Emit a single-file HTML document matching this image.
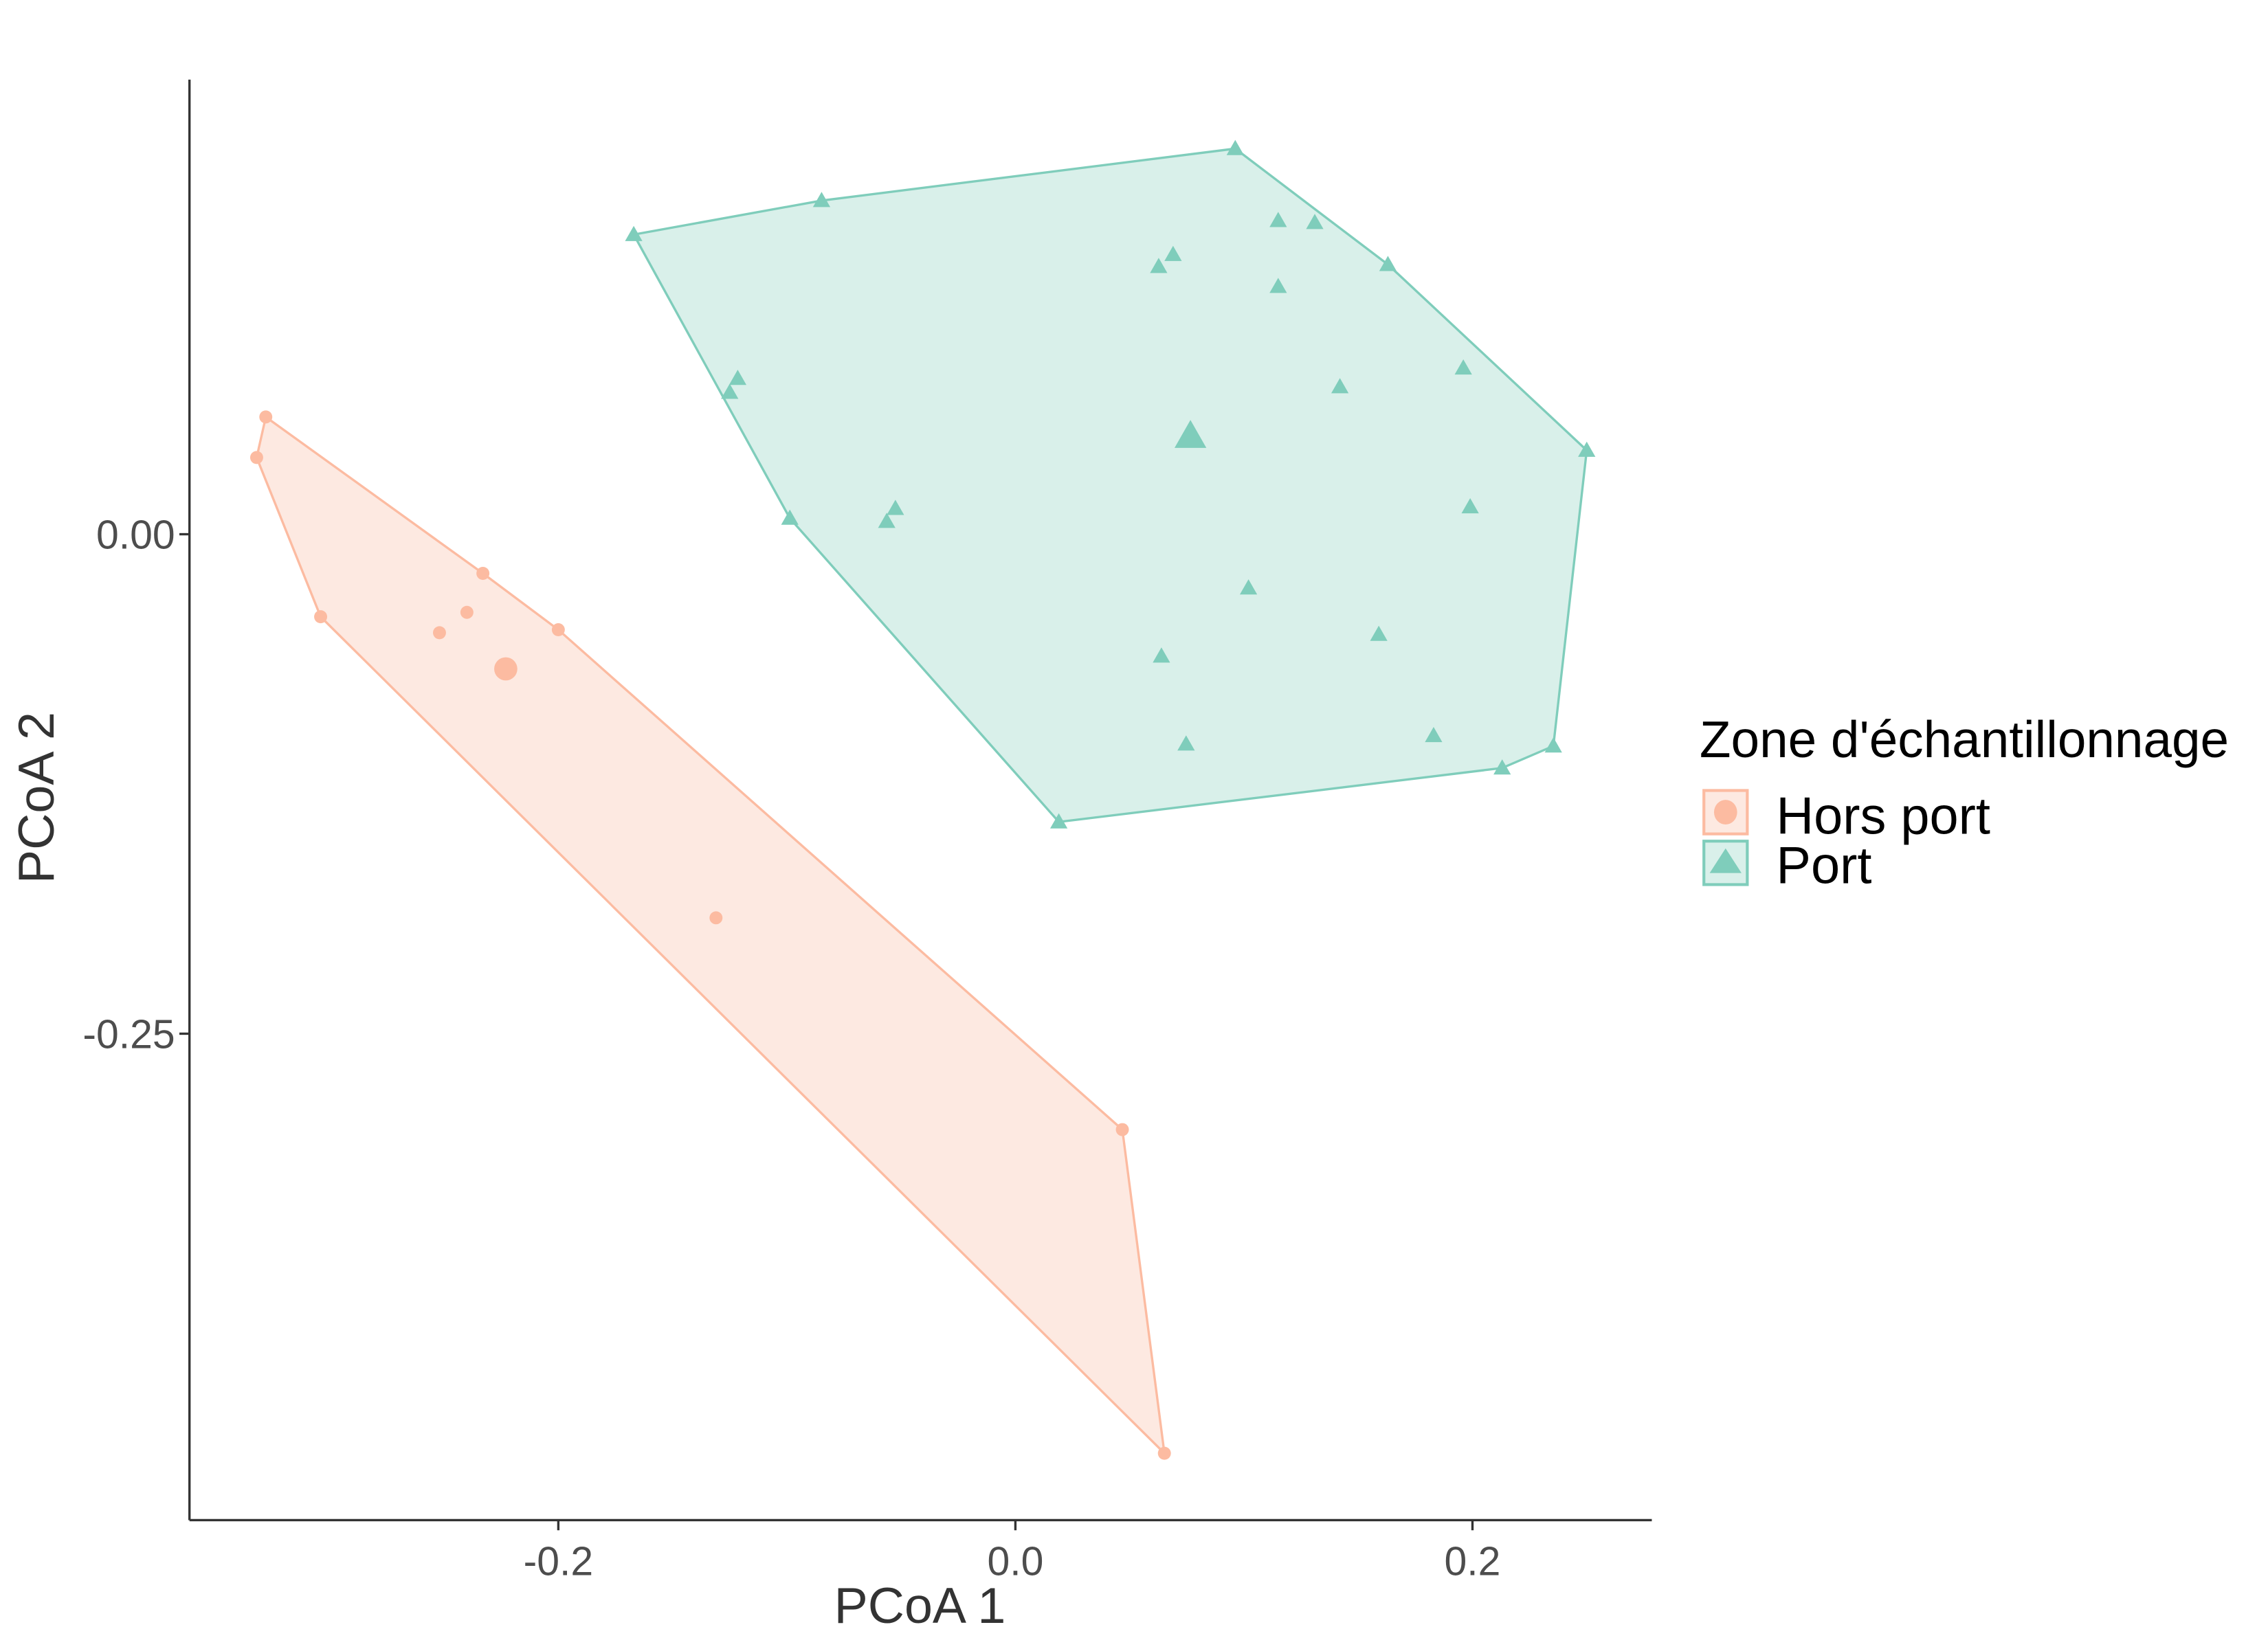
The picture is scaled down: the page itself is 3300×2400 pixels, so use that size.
<!DOCTYPE html>
<html><head><meta charset="utf-8"><style>
html,body{margin:0;padding:0;background:#fff;}
svg{display:block;}
text{font-family:"Liberation Sans",Arial,sans-serif;}
</style></head><body>
<svg id="chart" width="3300" height="2400" viewBox="0 0 1568 1139" preserveAspectRatio="none">
<g id="plot"></g>
<line x1="131" y1="55" x2="131" y2="1050" stroke="#333" stroke-width="1.6"/>
<line x1="131" y1="1050" x2="1142" y2="1050" stroke="#333" stroke-width="1.6"/>
<g id="ticks"></g>
<text x="636" y="1121" font-size="35" fill="#333" text-anchor="middle">PCoA 1</text>
<text transform="translate(37,551) rotate(-90)" font-size="35" fill="#333" text-anchor="middle">PCoA 2</text>
<g>
<text x="1175" y="523" font-size="35.5" fill="#000">Zone d'échantillonnage</text>
<g>
<rect x="1178" y="546" width="30" height="30" fill="#fde9e1" stroke="#fcbba1" stroke-width="2"/>
<ellipse cx="1193" cy="561" rx="8" ry="8.5" fill="#fcbba1"/>
<text x="1228" y="576" font-size="36" fill="#000">Hors port</text>
</g>
<g>
<rect x="1178" y="581" width="30" height="30" fill="#d9f0ea" stroke="#7fcdbb" stroke-width="2"/>
<polygon points="1193,586 1182,603 1204,603" fill="#7fcdbb"/>
<text x="1228" y="610" font-size="36" fill="#000">Port</text>
</g>
</g>
</svg>
<script>
const xTicks=[-0.2,0.0,0.2];
const xTickLabels=["-0.2","0.0","0.2"];
const yTicks=[0.00,-0.25];
const yTickLabels=["0.00","-0.25"];
const horsX=[-0.328,-0.332,-0.304,-0.233,-0.252,-0.240,-0.200,-0.131,0.0468,0.0652];
const horsY=[0.0587,0.0384,-0.0413,-0.0196,-0.0493,-0.0391,-0.0478,-0.192,-0.298,-0.460];
const horsCentroid=[-0.223,-0.0674];
const portX=[-0.167,-0.0848,0.0962,0.163,0.25,0.2354,0.213,0.019,-0.0987,-0.125,-0.1215,-0.0563,-0.0525,0.115,0.131,0.0627,0.069,0.115,0.142,0.196,0.199,0.102,0.159,0.0639,0.0747,0.183];
const portY=[0.150,0.167,0.193,0.135,0.042,-0.106,-0.117,-0.144,0.008,0.071,0.078,0.0064,0.0129,0.157,0.156,0.134,0.140,0.124,0.0738,0.0832,0.0137,-0.0269,-0.0501,-0.061,-0.105,-0.1008];
const portCentroid=[0.0766,0.0492];

const xs=v=>702+1580*v, ys=v=>369-1380*v;
const NS="http://www.w3.org/2000/svg";
const plot=document.getElementById('plot'), ticks=document.getElementById('ticks');
function mk(tag,attrs,parent){const e=document.createElementNS(NS,tag);for(const k in attrs)e.setAttribute(k,attrs[k]);parent.appendChild(e);return e;}
function hull(pts){pts=pts.slice().sort((a,b)=>a[0]-b[0]||a[1]-b[1]);const cr=(o,a,b)=>(a[0]-o[0])*(b[1]-o[1])-(a[1]-o[1])*(b[0]-o[0]);const lo=[],up=[];for(const p of pts){while(lo.length>=2&&cr(lo[lo.length-2],lo[lo.length-1],p)<=0)lo.pop();lo.push(p);}for(let i=pts.length-1;i>=0;i--){const p=pts[i];while(up.length>=2&&cr(up[up.length-2],up[up.length-1],p)<=0)up.pop();up.push(p);}up.pop();lo.pop();return lo.concat(up);}
function group(X,Y,C,fill,stroke,shape,name){
  const pts=X.map((x,i)=>[xs(x),ys(Y[i])]);
  const h=hull(pts);
  const poly=mk('polygon',{points:h.map(p=>p.join(',')).join(' '),fill:fill,stroke:stroke,'stroke-width':1.6},plot);
  
  
  const draw=(cx,cy,big,nm)=>{let e;
    if(shape==='c'){e=mk('circle',{cx:cx,cy:cy,r:big?8:4.5,fill:stroke},plot);}
    else{const s=big?11:6;e=mk('polygon',{points:`${cx},${cy-s} ${cx-s*1.0},${cy+s*0.75} ${cx+s*1.0},${cy+s*0.75}`,fill:stroke},plot);}
    
    };
  pts.forEach(p=>draw(p[0],p[1],false,name+'-point'));
  draw(xs(C[0]),ys(C[1]),true,name+'-centroid');
}
group(horsX,horsY,horsCentroid,'#fde9e1','#fcbba1','c','hors-port');
group(portX,portY,portCentroid,'#d9f0ea','#7fcdbb','t','port');
xTicks.forEach((v,i)=>{const x=xs(v);
  const l=mk('line',{x1:x,y1:1050,x2:x,y2:1057,stroke:'#333','stroke-width':1.6},ticks);
  
  
  const t=mk('text',{x:x,y:1088,'font-size':28,fill:'#4d4d4d','text-anchor':'middle'},ticks);t.textContent=xTickLabels[i];
  
  });
yTicks.forEach((v,i)=>{const y=ys(v);
  const l=mk('line',{x1:124,y1:y,x2:131,y2:y,stroke:'#333','stroke-width':1.6},ticks);
  
  
  const t=mk('text',{x:121,y:y+10,'font-size':28,fill:'#4d4d4d','text-anchor':'end'},ticks);t.textContent=yTickLabels[i];
  
  });
</script>
</body></html>
